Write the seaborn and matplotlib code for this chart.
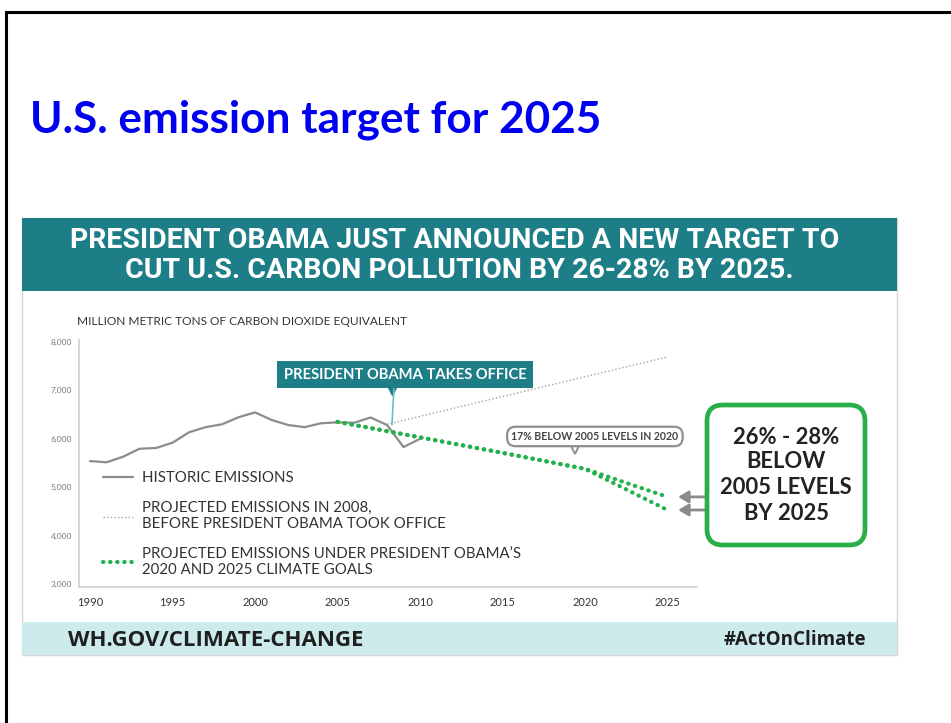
import matplotlib
matplotlib.use("Agg")
import matplotlib.pyplot as plt
from matplotlib.patches import Rectangle, FancyBboxPatch
from matplotlib.transforms import IdentityTransform
import seaborn as sns

W, H = 951, 723

# data (million metric tons CO2 equivalent)
hist_years = list(range(1990, 2011))
hist_values = [5540, 5515, 5630, 5795, 5810, 5920, 6135, 6240, 6300, 6445, 6545,
               6390, 6285, 6240, 6320, 6340, 6330, 6440, 6285, 5830, 6000]
proj_2008_years = [2008, 2025]
proj_2008_values = [6300, 7690]
goal_years = [2005, 2010, 2015, 2020, 2025]
goal_high = [6350, 6030, 5710, 5380, 4800]
goal_low = [6350, 6030, 5710, 5380, 4530]
x_ticks = [1990, 1995, 2000, 2005, 2010, 2015, 2020, 2025]
y_ticks = [3000, 4000, 5000, 6000, 7000, 8000]

TEAL = "#1d7e88"
GREEN = "#22b14c"
GRAY = "#8c8c8c"
TEXT = "#333333"


def py(y):
    # image y (from top) -> display y (from bottom)
    return H - y


sns.set_theme(style="white")
plt.rcParams["font.family"] = ["Lato", "DejaVu Sans"]

fig = plt.figure(figsize=(W / 100, H / 100), dpi=100)
fig.patch.set_facecolor("white")
px = IdentityTransform()

# slide frame + slide title
fig.patches.append(Rectangle((6, -20), W + 20, py(12) + 20, transform=px,
                             fill=False, ec="black", lw=2.2))
fig.text(30 / W, 1 - 133 / H, "U.S. emission target for 2025", color="#0000f0",
         fontsize=31.8, fontweight="bold", va="baseline")

# infographic frame, header and footer bands
fig.patches.append(Rectangle((22, py(655)), 875, 437, transform=px,
                             fill=False, ec="#d6d6d6", lw=1))
fig.patches.append(Rectangle((22, py(291)), 875, 73, transform=px, fc=TEAL, ec="none"))
fig.patches.append(Rectangle((22, py(655)), 875, 33, transform=px, fc="#cdeaed", ec="none"))

head_font = ["Liberation Sans Narrow", "Roboto", "DejaVu Sans"]
fig.text(455 / W, 1 - 241 / H, "PRESIDENT OBAMA JUST ANNOUNCED A NEW TARGET TO",
         ha="center", va="center", color="white", fontsize=20.5, fontweight="bold", family=head_font)
fig.text(459 / W, 1 - 270 / H, "CUT U.S. CARBON POLLUTION BY 26-28% BY 2025.",
         ha="center", va="center", color="white", fontsize=20.5, fontweight="bold", family=head_font)

foot_font = ["Open Sans", "DejaVu Sans"]
fig.text(68 / W, 1 - 640 / H, "WH.GOV/CLIMATE-CHANGE", ha="left", va="center",
         color="#1f1f1f", fontsize=16, fontweight="bold", family=foot_font)
fig.text(866 / W, 1 - 640 / H, "#ActOnClimate", ha="right", va="center",
         color="#1f1f1f", fontsize=13.5, fontweight="bold", family=foot_font)

# chart
ax = fig.add_axes([79 / W, 1 - 587 / H, (697 - 79) / W, (587 - 340) / H])
ax.patch.set_alpha(0)

sns.lineplot(x=hist_years, y=hist_values, ax=ax, color=GRAY, lw=1.6,
             label="HISTORIC EMISSIONS")
sns.lineplot(x=proj_2008_years, y=proj_2008_values, ax=ax, color="#a3a3a3", lw=1.0,
             linestyle=(0, (1, 1.6)),
             label="PROJECTED EMISSIONS IN 2008,\nBEFORE PRESIDENT OBAMA TOOK OFFICE")
sns.lineplot(x=goal_years, y=goal_low, ax=ax, color=GREEN, lw=3,
             linestyle=(0, (0.1, 1.6)), dash_capstyle="round")
sns.lineplot(x=goal_years, y=goal_high, ax=ax, color=GREEN, lw=3,
             linestyle=(0, (0.1, 1.6)), dash_capstyle="round",
             label="PROJECTED EMISSIONS UNDER PRESIDENT OBAMA\u2019S\n2020 AND 2025 CLIMATE GOALS")

ax.set_xlim(1989.33, 2026.79)
ax.set_ylim(2940, 8040)
ax.set_xticks(x_ticks)
ax.set_yticks(y_ticks)
ax.set_yticklabels([f"{v:,}" for v in y_ticks])
ax.set(xlabel="", ylabel="")
ax.tick_params(axis="x", length=0, pad=7, labelsize=8, labelcolor=TEXT)
ax.tick_params(axis="y", length=0, pad=5, labelsize=6, labelcolor="#777777")
sns.despine(ax=ax)
for side in ["left", "bottom"]:
    ax.spines[side].set_color("#cfcfcf")
    ax.spines[side].set_linewidth(1.2)

ax.text(-0.003, 1.073, "MILLION METRIC TONS OF CARBON DIOXIDE EQUIVALENT", transform=ax.transAxes,
        ha="left", va="center", fontsize=8.6, color=TEXT)

ax.legend(loc="upper left", bbox_to_anchor=(0.039, 0.468), frameon=False, fontsize=10.8,
          labelcolor=TEXT, handlelength=2.0, handletextpad=0.6, labelspacing=1.05,
          borderpad=0, borderaxespad=0)

# "takes office" flag
office_year = 2008.3
ax.annotate("PRESIDENT OBAMA TAKES OFFICE", xy=(office_year, 6290), xytext=(2009.1, 7320),
            ha="center", va="center", color="white", fontsize=10.6, fontweight="bold",
            bbox=dict(boxstyle="square,pad=0.45", fc=TEAL, ec="none"),
            arrowprops=dict(arrowstyle="-", color="#6dbcc2", lw=1.2, relpos=(0.455, 0),
                            shrinkA=0, shrinkB=0))
ax.plot([office_year], [7030], marker="v", ms=9, color=TEAL, clip_on=False)

# 2020 callout
ax.annotate("17% BELOW 2005 LEVELS IN 2020", xy=(2020.6, 6048), ha="center", va="center",
            fontsize=7.6, fontweight="bold", color="#444444",
            bbox=dict(boxstyle="round,pad=0.4,rounding_size=0.8", fc="white", ec="#8f8f8f", lw=1.6))
ax.plot([2019.4], [5790], marker="v", ms=7, mfc="white", mec="#8f8f8f", mew=1.4, clip_on=False)

# 2025 goal box with arrows
for v in [goal_high[-1], goal_low[-1]]:
    ax.annotate("", xy=(2025.65, v), xytext=(2027.33, v),
                arrowprops=dict(arrowstyle="-|>,head_length=0.5,head_width=0.3", color="#8a8a8a",
                                lw=2, shrinkA=0, shrinkB=0))

fig.patches.append(FancyBboxPatch((707, py(545)), 158, 140, transform=px,
                                  boxstyle="round,pad=0,rounding_size=16",
                                  fc="white", ec="#2aae4a", lw=3.4))
for text, y in [("26% - 28%", 438), ("BELOW", 462), ("2005 LEVELS", 488), ("BY 2025", 513)]:
    fig.text(786 / W, 1 - y / H, text, ha="center", va="center", fontsize=15.8,
             fontweight="bold", color="#222222")

fig.savefig("out.png", dpi=100)
